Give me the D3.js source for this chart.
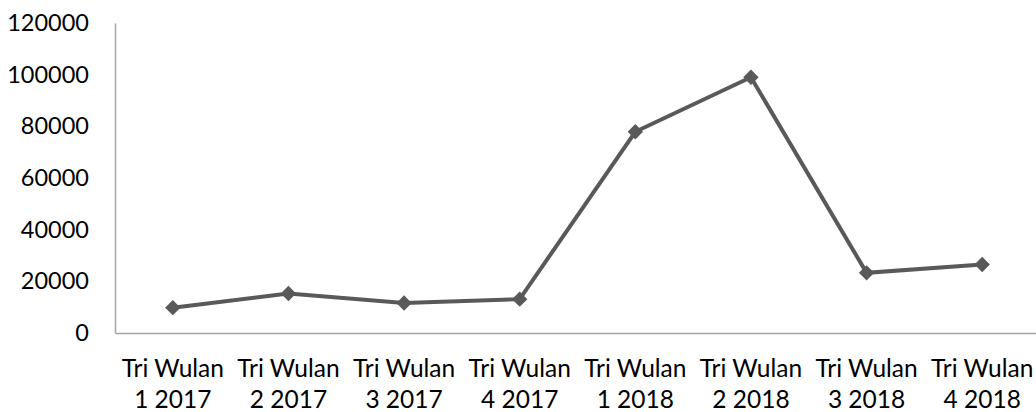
<!DOCTYPE html>
<html>
<head>
<meta charset="utf-8">
<script src="https://cdn.jsdelivr.net/npm/d3@7"></script>
<style>
  html, body { margin: 0; padding: 0; background: #fff; }
  svg { display: block; }
  text { font-family: Lato, "Open Sans", sans-serif; fill: #000; }
</style>
</head>
<body>
<svg id="chart" width="1036" height="412"></svg>
<script>
// Quarterly figures, 2017–2018
const categories = [
  ["Tri Wulan", "1 2017"], ["Tri Wulan", "2 2017"], ["Tri Wulan", "3 2017"], ["Tri Wulan", "4 2017"],
  ["Tri Wulan", "1 2018"], ["Tri Wulan", "2 2018"], ["Tri Wulan", "3 2018"], ["Tri Wulan", "4 2018"]
];
const values = [9800, 15300, 11600, 13100, 77900, 99000, 23300, 26500];
const yTicks = [0, 20000, 40000, 60000, 80000, 100000, 120000];

const svg = d3.select("#chart");
const plotLeft = 115, plotRight = 1040, plotTop = 23, plotBottom = 333;

const x = d3.scaleBand()
  .domain(d3.range(categories.length))
  .range([plotLeft, plotRight]);

const y = d3.scaleLinear()
  .domain([0, 120000])
  .range([plotBottom, plotTop]);

// Y axis: line plus tick labels, no tick marks
const yAxis = d3.axisLeft(y).tickValues(yTicks).tickSize(0).tickPadding(26).tickFormat(d3.format("d"));
const gy = svg.append("g").attr("transform", `translate(${plotLeft},0)`).call(yAxis);
gy.select(".domain").attr("stroke", "#a6a6a6").attr("stroke-width", 1.5);
gy.selectAll("text").style("font-size", "23.5px").attr("font-family", null);

// X axis baseline
const xAxis = d3.axisBottom(x).tickSize(0).tickFormat("");
const gx = svg.append("g").attr("transform", `translate(0,${plotBottom})`).call(xAxis);
gx.select(".domain").attr("stroke", "#a6a6a6").attr("stroke-width", 1.5);

// Two-line category labels
const lbl = svg.append("g");
categories.forEach((c, i) => {
  const cx = x(i) + x.bandwidth() / 2;
  const t = lbl.append("text").attr("text-anchor", "middle").style("font-size", "24.5px");
  t.append("tspan").attr("x", cx).attr("y", 377).text(c[0]);
  t.append("tspan").attr("x", cx).attr("y", 408).text(c[1]);
});

// Series line
const line = d3.line()
  .x((d, i) => x(i) + x.bandwidth() / 2)
  .y(d => y(d));

svg.append("path")
  .datum(values)
  .attr("fill", "none")
  .attr("stroke", "#595959")
  .attr("stroke-width", 4)
  .attr("d", line);

// Diamond markers
svg.append("g").selectAll("path")
  .data(values)
  .join("path")
  .attr("transform", (d, i) => `translate(${x(i) + x.bandwidth() / 2},${y(d)})`)
  .attr("d", d3.symbol().type(d3.symbolDiamond2).size(150))
  .attr("fill", "#595959");
</script>
</body>
</html>
